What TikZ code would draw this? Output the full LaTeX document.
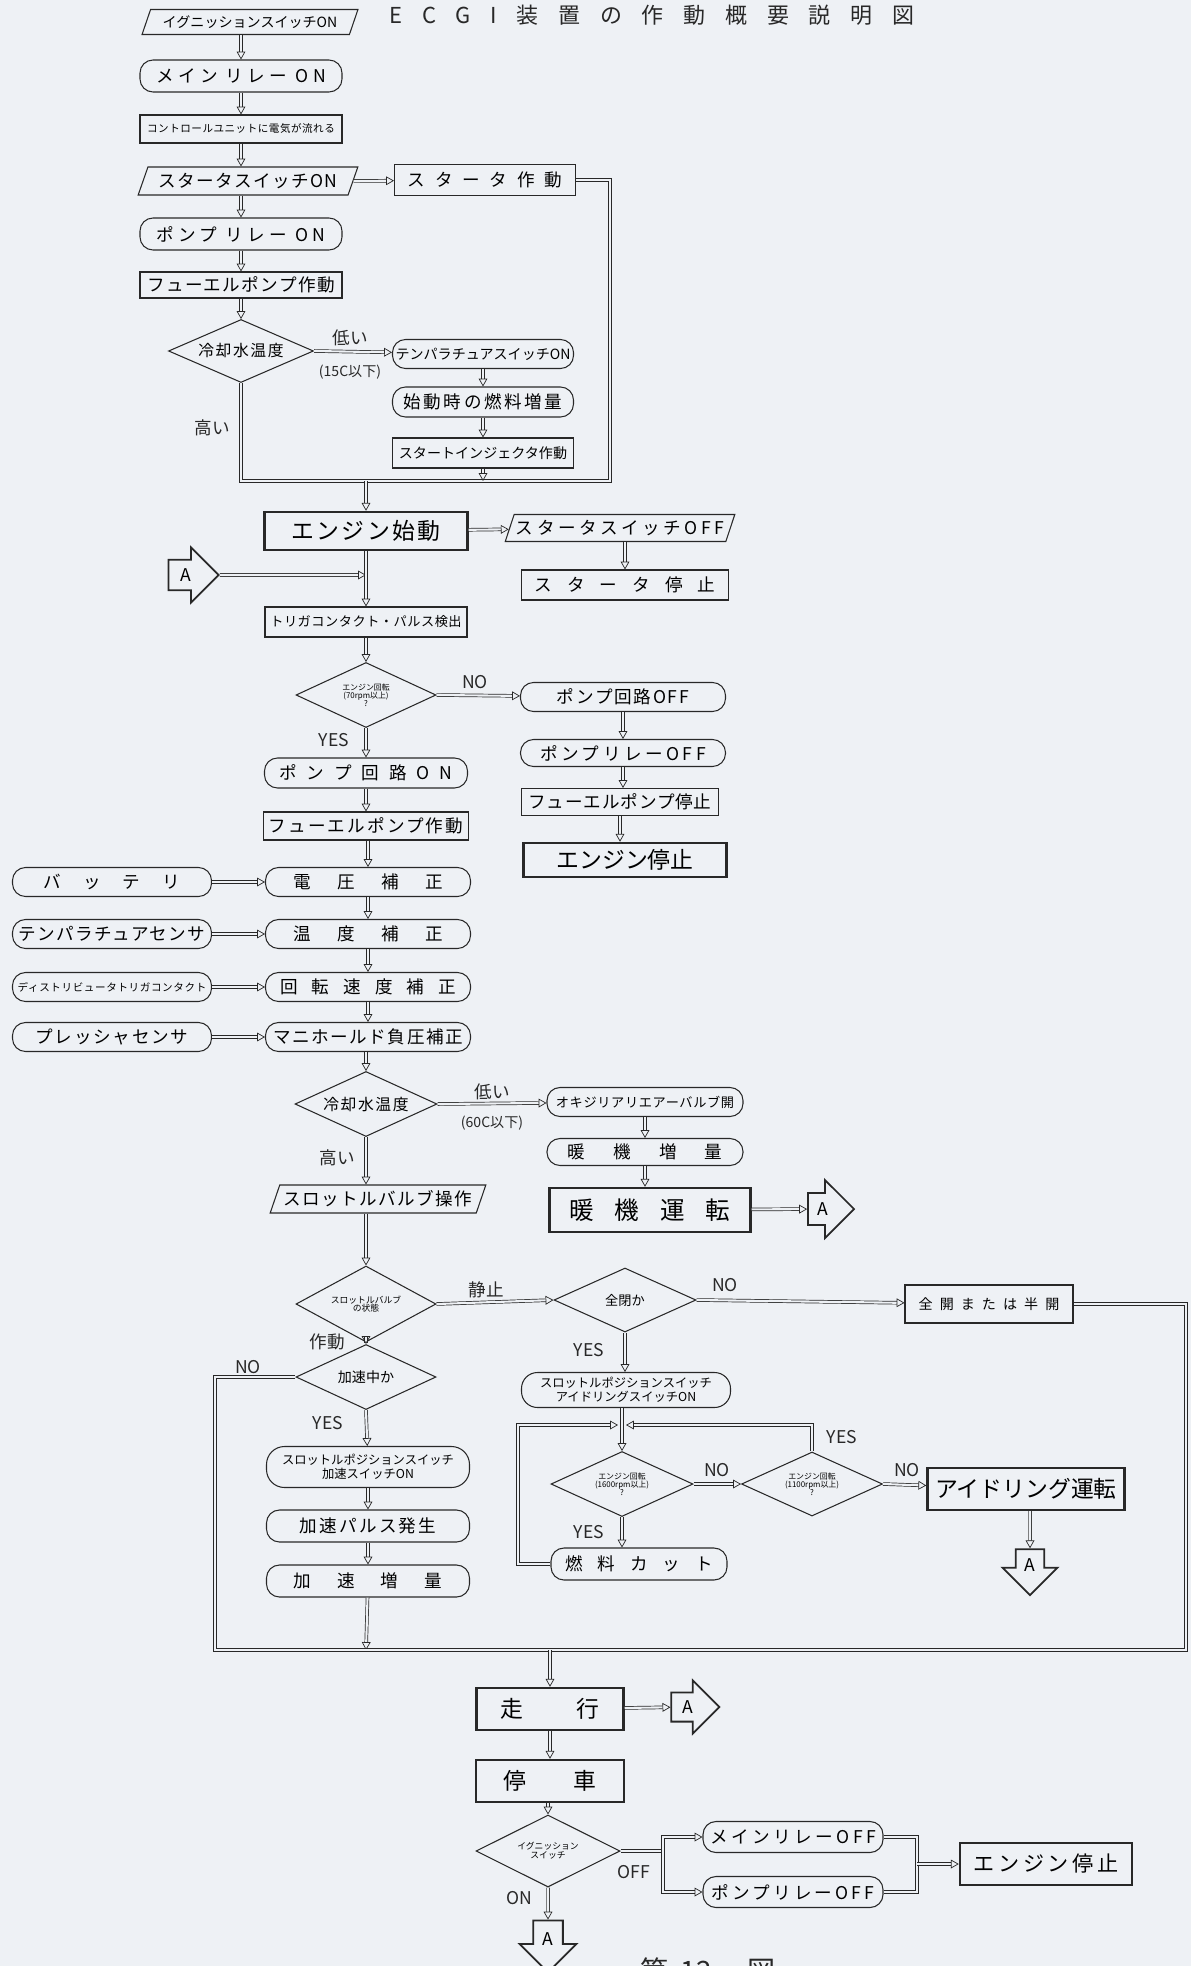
\documentclass[tikz,border=0pt]{standalone}
\usepackage{fontspec}
\setmainfont{Noto Sans CJK JP}
\usepackage{tikz}
\usetikzlibrary{shapes.geometric, shapes.arrows, arrows.meta, calc}
\definecolor{paper}{RGB}{238,241,245}
\definecolor{ink}{RGB}{40,40,40}
\newcommand{\spread}[2]{{\addfontfeature{LetterSpace=#1}#2}}

\begin{document}
\begin{tikzpicture}[x=0.2mm, y=-0.2mm,
  fs/.style={font=\fontsize{#1}{#1}\selectfont},
  sz/.style 2 args={minimum width=#1*0.2mm, minimum height=#2*0.2mm},
  box/.style={draw=ink, rectangle, inner sep=1pt, line width=0.6pt},
  heavy/.style={box, line width=1.4pt},
  term/.style={draw=ink, rectangle, rounded corners=2.6mm, inner sep=1pt, line width=0.6pt},
  io/.style={draw=ink, trapezium, trapezium left angle=65, trapezium right angle=115, trapezium stretches=true, inner sep=1pt, line width=0.6pt},
  dec/.style={draw=ink, diamond, aspect=2.2, inner sep=0pt, line width=0.6pt, align=center},
  tagA/.style={draw=ink, single arrow, line width=1pt, inner sep=0.5mm, single arrow head extend=1.6mm, fs=10},
  lbl/.style={fs=10, inner sep=0pt, text=ink},
  flow/.style={draw=ink, double=paper, double distance=1.2pt, line width=0.4pt, -{Triangle[open, length=4.5pt, width=5pt]}},
  pipe/.style={draw=ink, double=paper, double distance=1.2pt, line width=0.4pt}
]
\fill[paper] (0,0) rectangle (1191,1966);
\useasboundingbox (0,0) rectangle (1191,1966);

\node[fs=12.5, text=ink] (title) at (652,15) {\spread{90}{ECGI装置の作動概要説明図}};

% start up
\node[io, sz={216}{25}, fs=8] (ign) at (250,22) {イグニッションスイッチON};
\node[term, sz={202}{32}, fs=10] (mainrly) at (241,76) {\spread{25}{メイン リレー ON}};
\node[box, sz={202}{28}, fs=6] (cu) at (241,129) {\spread{5}{コントロールユニットに電気が流れる}};
\node[io, sz={220}{28}, fs=10] (stsw) at (248,181) {\spread{8}{スタータスイッチON}};
\node[box, sz={181}{31}, fs=10] (stact) at (485,180) {\spread{56}{スタータ作動}};
\node[term, sz={202}{32}, fs=10] (pumprly) at (241,234) {\spread{25}{ポンプ リレー ON}};
\node[box, sz={202}{26}, fs=10] (fuelpump) at (241,285) {\spread{8}{フューエルポンプ作動}};
\node[dec, sz={145}{63}, fs=9] (cool1) at (241,351) {\spread{10}{冷却水温度}};
\node[term, sz={181}{29}, fs=8] (tempsw) at (483,354) {テンパラチュアスイッチON};
\node[term, sz={181}{30}, fs=10] (startfuel) at (483,402) {\spread{15}{始動時の燃料増量}};
\node[box, sz={181}{30}, fs=8] (stinj) at (483,453) {スタートインジェクタ作動};
\node[lbl] (low1) at (350,338) {低い};
\node[lbl, fs=8] (c15) at (350,372) {(15C以下)};
\node[lbl] (high1) at (212,428) {高い};

\coordinate (mr) at (610,481);
\coordinate (ml) at (241,481);
\coordinate (mc) at (366,481);

\draw[flow] (ign.south -| mainrly) -- (mainrly);
\draw[flow] (mainrly) -- (cu);
\draw[flow] (cu) -- (cu |- stsw.north);
\draw[flow] (stsw.south -| pumprly) -- (pumprly);
\draw[flow] (pumprly) -- (fuelpump);
\draw[flow] (fuelpump) -- (cool1);
\draw[flow] (stsw.east) -- (stact);
\draw[flow] (cool1.east) -- (tempsw);
\draw[flow] (tempsw) -- (startfuel);
\draw[flow] (startfuel) -- (stinj);
\draw[pipe] (stact.east) -| (mr) -- (ml) -- (cool1.south);
\draw[flow] (stinj) -- (stinj |- mr);

% cranking
\node[heavy, sz={203}{38}, fs=13] (engst) at (366,531) {\spread{10}{エンジン始動}};
\node[io, sz={220}{27}, fs=10] (stswoff) at (620,528) {\spread{20}{スタータスイッチOFF}};
\node[box, sz={207}{30}, fs=10] (ststop) at (625,585) {\spread{86}{スタータ停止}};
\node[tagA, minimum height=10mm, minimum width=11mm] (Aleft) at (186,575) {A};
\node[box, sz={202}{30}, fs=7.5] (trig) at (366,622) {\spread{4}{トリガコンタクト・パルス検出}};
\node[dec, sz={140}{65}, fs=4.5] (rpm1) at (366,695) {エンジン回転\\(70rpm以上)\\?};
\node[term, sz={205}{29}, fs=10] (poff) at (623,697) {\spread{10}{ポンプ回路OFF}};
\node[term, sz={205}{27}, fs=10] (proff) at (623,753) {\spread{20}{ポンプリレーOFF}};
\node[box, sz={197}{27}, fs=10] (fpstop) at (620,802) {\spread{5}{フューエルポンプ停止}};
\node[heavy, sz={203}{34}, fs=13] (engstop1) at (625,860) {エンジン停止};
\node[term, sz={203}{30}, fs=10] (pon) at (366,773) {\spread{57}{ポンプ回路ON}};
\node[box, sz={205}{28}, fs=10] (fpact) at (366,826) {\spread{12}{フューエルポンプ作動}};
\node[lbl] (no1) at (475,682) {NO};
\node[lbl] (yes1) at (334,740) {YES};

\coordinate (ja) at (366,575);

\draw[flow] (mc) -- (engst);
\draw[flow] (engst) -- (stswoff);
\draw[flow] (stswoff.south -| ststop) -- (ststop);
\draw[flow] (Aleft) -- (ja);
\draw[flow] (engst) -- (trig);
\draw[flow] (trig) -- (rpm1);
\draw[flow] (rpm1.east) -- (poff);
\draw[flow] (poff) -- (proff);
\draw[flow] (proff) -- (proff |- fpstop.north);
\draw[flow] (fpstop) -- (fpstop |- engstop1.north);
\draw[flow] (rpm1.south) -- (pon);
\draw[flow] (pon) -- (fpact);

% corrections
\node[term, sz={205}{29}, fs=10] (volt) at (368,882) {\spread{150}{電圧補正}};
\node[term, sz={205}{29}, fs=10] (temp) at (368,934) {\spread{150}{温度補正}};
\node[term, sz={205}{29}, fs=10] (rev) at (368,987) {\spread{80}{回転速度補正}};
\node[term, sz={205}{29}, fs=10] (mani) at (368,1037) {\spread{9}{マニホールド負圧補正}};
\node[term, sz={199}{29}, fs=10] (batt) at (112,882) {\spread{125}{バッテリ}};
\node[term, sz={199}{29}, fs=10] (tsens) at (112,934) {\spread{7}{テンパラチュアセンサ}};
\node[term, sz={199}{29}, fs=6] (dist) at (112,987) {\spread{6}{ディストリビュータトリガコンタクト}};
\node[term, sz={199}{29}, fs=10] (psens) at (112,1037) {\spread{10}{プレッシャセンサ}};

\draw[flow] (fpact.south -| volt) -- (volt);
\draw[flow] (volt) -- (temp);
\draw[flow] (temp) -- (rev);
\draw[flow] (rev) -- (mani);
\draw[flow] (batt) -- (volt);
\draw[flow] (tsens) -- (temp);
\draw[flow] (dist) -- (rev);
\draw[flow] (psens) -- (mani);

% warm up
\node[dec, sz={142}{65}, fs=9] (cool2) at (366,1104) {\spread{10}{冷却水温度}};
\node[term, sz={196}{29}, fs=7.5] (aux) at (645,1102) {\spread{5}{オキジリアリエアーバルブ開}};
\node[term, sz={196}{27}, fs=10] (warmfuel) at (645,1152) {\spread{160}{暖機増量}};
\node[heavy, sz={201}{44}, fs=14] (warm) at (650,1210) {\spread{85}{暖機運転}};
\node[tagA, minimum height=9.2mm, minimum width=11.6mm] (Awarm) at (823,1209) {A};
\node[io, sz={216}{28}, fs=10] (throttle) at (378,1199) {\spread{8}{スロットルバルブ操作}};
\node[lbl] (low2) at (492,1092) {低い};
\node[lbl, fs=8] (c60) at (492,1123) {(60C以下)};
\node[lbl] (high2) at (337,1158) {高い};

\draw[flow] (mani.south -| cool2) -- (cool2);
\draw[flow] (cool2.east) -- (aux);
\draw[flow] (aux) -- (warmfuel);
\draw[flow] (warmfuel) -- (warmfuel |- warm.north);
\draw[flow] (warm) -- (Awarm);
\draw[flow] (cool2.south) -- (cool2.south |- throttle.north);

% throttle
\node[dec, sz={140}{76}, fs=5] (tstate) at (366,1304) {スロットルバルブ\\の状態};
\node[dec, sz={142}{64}, fs=7.5] (fullclose) at (625,1300) {全閉か};
\node[box, sz={168}{38}, fs=8] (halfopen) at (989,1304) {\spread{50}{全開または半開}};
\node[dec, sz={140}{65}, fs=8] (accel) at (366,1377) {加速中か};
\node[term, sz={203}{41}, fs=7, rounded corners=3.6mm, align=center] (accsw) at (368,1467) {スロットルポジションスイッチ\\[1pt]加速スイッチON};
\node[term, sz={203}{32}, fs=10] (accpulse) at (368,1526) {\spread{13}{加速パルス発生}};
\node[term, sz={203}{32}, fs=10] (accfuel) at (368,1581) {\spread{148}{加速増量}};
\node[term, sz={209}{35}, fs=7, rounded corners=3.2mm, align=center] (idlesw) at (626,1390) {スロットルポジションスイッチ\\[1pt]アイドリングスイッチON};
\node[dec, sz={142}{65}, fs=4.5] (rpm16) at (622,1484) {エンジン回転\\(1600rpm以上)\\?};
\node[dec, sz={141}{64}, fs=4.5] (rpm11) at (812,1484) {エンジン回転\\(1100rpm以上)\\?};
\node[heavy, sz={197}{42}, fs=13] (idle) at (1026,1489) {アイドリング運転};
\node[tagA, shape border rotate=270, minimum height=9.2mm, minimum width=11mm] (Aidle) at (1030,1565) {A};
\node[term, sz={176}{32}, fs=10] (cut) at (639,1564) {\spread{85}{燃料カット}};
\node[lbl] (still) at (486,1290) {静止};
\node[lbl] (no2) at (725,1285) {NO};
\node[lbl] (act) at (327,1342) {作動};
\node[lbl] (no3) at (248,1367) {NO};
\node[lbl] (yes2) at (328,1423) {YES};
\node[lbl] (yes3) at (589,1350) {YES};
\node[lbl] (no4) at (717,1470) {NO};
\node[lbl] (no5) at (907,1470) {NO};
\node[lbl] (yes4) at (842,1437) {YES};
\node[lbl] (yes5) at (589,1532) {YES};

\coordinate (bl) at (215,1650);
\coordinate (br) at (1186,1650);
\coordinate (bm) at (366,1650);
\coordinate (bc) at (550,1650);
\coordinate (lt) at (518,1425);
\coordinate (rt) at (812,1425);
\coordinate (jl) at (618,1425);
\coordinate (jr) at (626,1425);

\draw[flow] (throttle.south -| tstate) -- (tstate);
\draw[flow] (tstate.east) -- (fullclose.west);
\draw[flow] (fullclose.east) -- (halfopen);
\draw[flow] (tstate.south) -- (accel.north);
\draw[flow] (accel.south) -- (accsw);
\draw[flow] (accsw) -- (accpulse);
\draw[flow] (accpulse) -- (accfuel);
\draw[flow] (accfuel) -- (bm);
\draw[pipe] (accel.west) -| (bl) -- (br) |- (halfopen.east);
\draw[flow] (fullclose.south) -- (fullclose.south |- idlesw.north);
\draw[flow] (idlesw.south -| rpm16) -- (rpm16.north);
\draw[flow] (rpm16.east) -- (rpm11.west);
\draw[flow] (rpm11.east) -- (idle);
\draw[flow] (rpm11.north) -- (rt) -- (jr);
\draw[flow] (cut.west) -| (lt) -- (jl);
\draw[flow] (rpm16.south) -- (rpm16.south |- cut.north);
\draw[flow] (idle.south -| Aidle) -- (Aidle);

% running and stop
\node[heavy, sz={147}{42}, fs=13] (run) at (550,1709) {\spread{236}{走行}};
\node[tagA, minimum height=9.6mm, minimum width=10.6mm] (Arun) at (688,1707) {A};
\node[heavy, sz={148}{42}, fs=13] (stopcar) at (550,1781) {\spread{205}{停車}};
\node[dec, sz={144}{72}, fs=5] (igsw) at (548,1851) {イグニッション\\スイッチ};
\node[term, sz={180}{31}, fs=10] (mroff) at (793,1837) {\spread{20}{メインリレーOFF}};
\node[term, sz={180}{31}, fs=10] (proff2) at (793,1892) {\spread{18}{ポンプリレーOFF}};
\node[heavy, sz={172}{42}, fs=12] (engstop2) at (1046,1864) {\spread{17}{エンジン停止}};
\node[tagA, shape border rotate=270, minimum height=10.4mm, minimum width=11.4mm] (Aend) at (548,1939) {A};
\node[lbl] (off) at (634,1872) {OFF};
\node[lbl] (on) at (519,1898) {ON};
\node[fs=16, text=ink] (cap) at (708,1971) {第\hspace{2.4mm}12\hspace{7mm}図};

\coordinate (ob) at (663,1851);
\coordinate (eb) at (917,1864);

\draw[flow] (bc) -- (run);
\draw[flow] (run) -- (Arun);
\draw[flow] (run) -- (stopcar);
\draw[flow] (stopcar.south -| igsw) -- (igsw.north);
\draw[pipe] (igsw.east) -- (ob);
\draw[flow] (ob) |- (mroff.west);
\draw[flow] (ob) |- (proff2.west);
\draw[pipe] (mroff.east) -| (eb);
\draw[pipe] (proff2.east) -| (eb);
\draw[flow] (eb) -- (engstop2);
\draw[flow] (igsw.south) -- (Aend);
\end{tikzpicture}
\end{document}
